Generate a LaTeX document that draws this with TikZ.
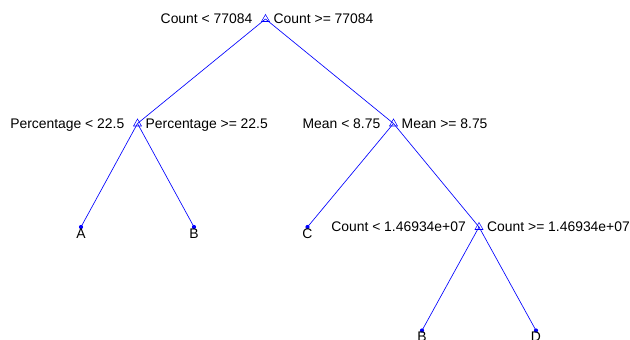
\documentclass[tikz,border=0pt]{standalone}
\usepackage{fontspec}
\setmainfont{Liberation Sans}
\usetikzlibrary{calc}
\definecolor{mblue}{RGB}{0,0,255}
\begin{document}
\begin{tikzpicture}[x=1pt,y=-1pt,
  edge/.style={draw=mblue,line width=0.65pt},
  splitmark/.style={draw=mblue,line width=0.55pt},
  lbl/.style={inner sep=0pt,font=\fontsize{13.9}{16}\selectfont,text=black},
  leaf/.style={circle,fill=mblue,inner sep=0pt,minimum size=4.2pt},
  leaflbl/.style={inner sep=0pt,anchor=base,font=\fontsize{13.9}{16}\selectfont}]
\useasboundingbox (0,0) rectangle (630,340);
\clip (0,0) rectangle (630,340);
% node positions
\coordinate (n1) at (265.5,19);
\coordinate (n2) at (137.5,123.5);
\coordinate (n3) at (393.5,123.5);
\coordinate (n5) at (479,227);
\coordinate (l1) at (81,227);
\coordinate (l2) at (194,227);
\coordinate (l3) at (307.5,227);
\coordinate (l4) at (422,330.5);
\coordinate (l5) at (536,330.5);
% edges
\draw[edge] (n1) -- (n2);
\draw[edge] (n1) -- (n3);
\draw[edge] (n2) -- (l1);
\draw[edge] (n2) -- (l2);
\draw[edge] (n3) -- (l3);
\draw[edge] (n3) -- (n5);
\draw[edge] (n5) -- (l4);
\draw[edge] (n5) -- (l5);
% split markers
\foreach \n in {n1,n2,n3,n5}{
  \draw[splitmark] ($(\n)+(0,-4.5)$) -- ($(\n)+(4,2.5)$) -- ($(\n)+(-4,2.5)$) -- cycle;
}
% leaf dots
\foreach \n in {l1,l2,l3,l4,l5}{
  \node[leaf] at (\n) {};
}
% split labels
\node[lbl,anchor=base east] (t1l) at ($(n1)+(-13,4.9)$) {Count < 77084};
\node[lbl,anchor=base west] (t1r) at ($(n1)+(8,4.9)$) {Count >= 77084};
\node[lbl,anchor=base east] (t2l) at ($(n2)+(-13,4.9)$) {Percentage < 22.5};
\node[lbl,anchor=base west] (t2r) at ($(n2)+(8,4.9)$) {Percentage >= 22.5};
\node[lbl,anchor=base east] (t3l) at ($(n3)+(-13,4.9)$) {Mean < 8.75};
\node[lbl,anchor=base west] (t3r) at ($(n3)+(8,4.9)$) {Mean >= 8.75};
\node[lbl,anchor=base east] (t5l) at ($(n5)+(-13,4.9)$) {Count < 1.46934e+07};
\node[lbl,anchor=base west] (t5r) at ($(n5)+(8,4.9)$) {Count >= 1.46934e+07};
% leaf labels
\node[leaflbl] (a1) at ($(l1)+(0,11)$) {A};
\node[leaflbl] (a2) at ($(l2)+(0,11)$) {B};
\node[leaflbl] (a3) at ($(l3)+(0,11)$) {C};
\node[leaflbl] (a4) at ($(l4)+(0,11)$) {B};
\node[leaflbl] (a5) at ($(l5)+(0,11)$) {D};
\end{tikzpicture}
\end{document}
